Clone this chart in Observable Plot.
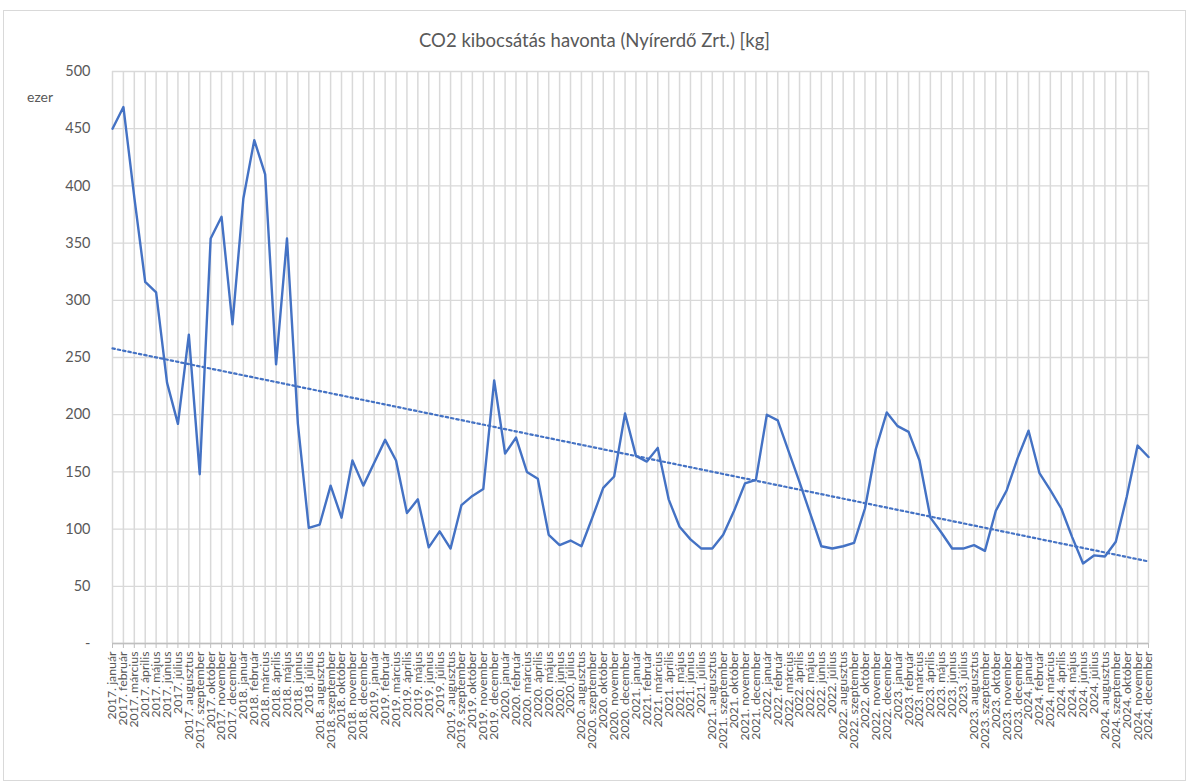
<!DOCTYPE html>
<html><head><meta charset="utf-8">
<script src="https://cdn.jsdelivr.net/npm/d3@7"></script>
<script src="https://cdn.jsdelivr.net/npm/@observablehq/plot@0.6"></script>
<style>
body{margin:0;background:#fff;font-family:Lato, "Open Sans", sans-serif;}
#frame{position:absolute;left:3px;top:10px;width:1183px;height:771px;border:1px solid #d9d9d9;box-sizing:border-box;}
#title{position:absolute;left:0;top:29px;width:1189px;text-align:center;font-size:18.5px;color:#595959;}
#unit{position:absolute;left:27px;top:88px;font-size:14px;color:#595959;}
#chart{position:absolute;left:0;top:60px;}
</style></head><body>
<div id="frame"></div>
<div id="title">CO2 kibocsátás havonta (Nyírerdő Zrt.) [kg]</div>
<div id="unit">ezer</div>
<div id="chart"></div>
<script>
const years = [2017, 2018, 2019, 2020, 2021, 2022, 2023, 2024];
const monthNames = ["január","február","március","április","május","június","július","augusztus","szeptember","október","november","december"];
// monthly CO2 emission, thousand kg ("ezer")
const v2017 = [450, 469, 390, 316, 307, 228, 192, 270, 148, 354, 373, 279];
const v2018 = [389, 440, 410, 244, 354, 192, 101, 104, 138, 110, 160, 138];
const v2019 = [158, 178, 160, 114, 126, 84, 98, 83, 121, 129, 135, 230];
const v2020 = [166, 180, 150, 144, 95, 86, 90, 85, 110, 136, 146, 201];
const v2021 = [164, 159, 171, 126, 102, 91, 83, 83, 95, 116, 140, 143];
const v2022 = [200, 195, 168, 141, 113, 85, 83, 85, 88, 118, 170, 202];
const v2023 = [190, 185, 160, 110, 97, 83, 83, 86, 81, 116, 134, 162];
const v2024 = [186, 149, 134, 118, 93, 70, 77, 76, 89, 128, 173, 163];
const yTicks = [0, 50, 100, 150, 200, 250, 300, 350, 400, 450, 500];

const labels = years.flatMap(y => monthNames.map(m => `${y}. ${m}`));
const values = [...v2017, ...v2018, ...v2019, ...v2020, ...v2021, ...v2022, ...v2023, ...v2024];
const data = values.map((v, i) => ({i, label: labels[i], value: v}));
const idx = d3.range(labels.length);

const chart = Plot.plot({
  width: 1189,
  height: 720,
  marginLeft: 112,
  marginRight: 41,
  marginTop: 11,
  marginBottom: 137,
  style: {fontFamily: "Lato, 'Open Sans', sans-serif", background: "transparent"},
  x: {domain: [0, labels.length - 1], axis: null},
  y: {domain: [0, 500], axis: null},
  marks: [
    Plot.gridY(yTicks, {stroke: "#d9d9d9", strokeOpacity: 1, strokeWidth: 1.3}),
    Plot.gridX(idx, {stroke: "#d9d9d9", strokeOpacity: 1, strokeWidth: 1.5}),
    Plot.axisY(yTicks, {label: null, tickSize: 0, tickPadding: 22, tickFormat: d => d === 0 ? "-" : d, fontSize: 14.5, fill: "#595959"}),
    Plot.axisX(idx, {label: null, tickRotate: -90, tickFormat: i => labels[i], tickSize: 5, tickPadding: 3, stroke: "#bfbfbf", fill: "#595959", fontSize: 12.3}),
    Plot.ruleY([0], {stroke: "#bfbfbf", strokeWidth: 1.3}),
    Plot.line(data, {x: "i", y: "value", stroke: "#4472C4", strokeWidth: 2.4}),
    Plot.linearRegressionY(data, {x: "i", y: "value", stroke: "#4472C4", strokeWidth: 2.2, strokeDasharray: "2.4,3", ci: 0})
  ]
});
document.getElementById("chart").appendChild(chart);
</script>
</body></html>
